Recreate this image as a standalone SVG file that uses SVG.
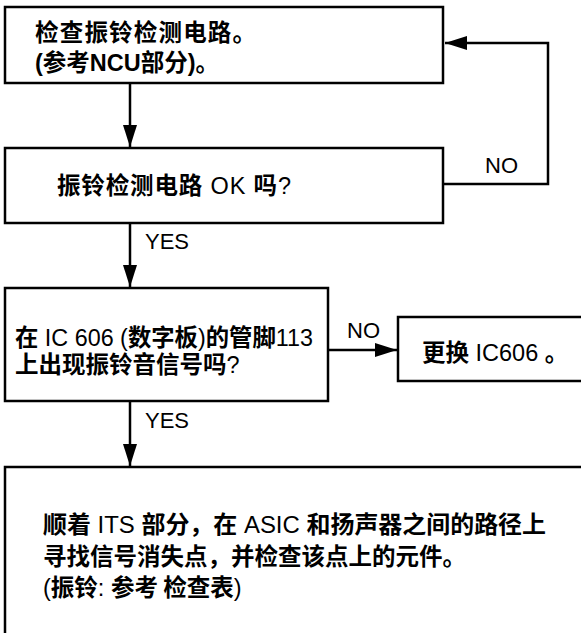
<svg xmlns="http://www.w3.org/2000/svg" width="581" height="633" viewBox="0 0 581 633">
<defs>
<marker id="ah" viewBox="0 0 22 14" refX="22" refY="7" markerWidth="22" markerHeight="14" orient="auto" markerUnits="userSpaceOnUse">
<path d="M0,0 L22,7 L0,14 z" fill="#000"/>
</marker>
<style>
.box{fill:#fff;stroke:#000;stroke-width:2.5}
.t{font-family:"Liberation Sans","Noto Sans CJK SC",sans-serif;font-size:23.5px;fill:#000}
.b{font-weight:bold}
.c{font-family:"Noto Sans CJK SC","Liberation Sans",sans-serif;font-weight:bold}
.lbl{font-family:"Liberation Sans",Arial,sans-serif;font-size:22px;fill:#000}
.wire{fill:none;stroke:#000;stroke-width:2.5}
</style>
</defs>
<rect width="581" height="633" fill="#fff"/>
<g id="connectors">
<line class="wire" x1="130" y1="83" x2="130" y2="147" marker-end="url(#ah)"/>
<line class="wire" x1="130" y1="223" x2="130" y2="287" marker-end="url(#ah)"/>
<line class="wire" x1="130" y1="401" x2="130" y2="466" marker-end="url(#ah)"/>
<polyline class="wire" points="443,184 548,184 548,43 445,43" marker-end="url(#ah)"/>
<line class="wire" x1="328" y1="350" x2="397" y2="350" marker-end="url(#ah)"/>
<text class="lbl" x="485" y="173">NO</text>
<text class="lbl" x="145" y="249">YES</text>
<text class="lbl" x="347" y="338">NO</text>
<text class="lbl" x="145" y="428">YES</text>
</g>
<g id="n1">
<rect class="box" x="5" y="7" width="438" height="76"/>
<text class="t b" x="35" y="41" textLength="221" lengthAdjust="spacing"><tspan class="c">检查振铃检测电路。</tspan></text>
<text class="t b" x="35" y="71">(<tspan class="c">参考</tspan>NCU<tspan class="c">部分</tspan>)<tspan class="c">。</tspan></text>
</g>
<g id="n2">
<rect class="box" x="5" y="148" width="438" height="75"/>
<text class="t" x="57" y="194" textLength="234" lengthAdjust="spacing"><tspan class="c">振铃检测电路</tspan> OK <tspan class="c">吗</tspan>?</text>
</g>
<g id="n3">
<rect class="box" x="5" y="288" width="323" height="113"/>
<text class="t" x="15" y="346" textLength="298" lengthAdjust="spacingAndGlyphs"><tspan class="c">在</tspan> IC 606 (<tspan class="c">数字板</tspan>)<tspan class="c">的管脚</tspan>113</text>
<text class="t" x="15" y="373"><tspan class="c">上出现振铃音信号吗</tspan>?</text>
</g>
<g id="n4">
<rect class="box" x="398" y="317" width="300" height="64"/>
<text class="t" x="422" y="361"><tspan class="c">更换</tspan> IC606 <tspan class="c">。</tspan></text>
</g>
<g id="n5">
<rect class="box" x="5" y="467" width="700" height="300"/>
<text class="t" x="43" y="533" textLength="503" lengthAdjust="spacingAndGlyphs"><tspan class="c">顺着</tspan> ITS <tspan class="c">部分，在</tspan> ASIC <tspan class="c">和扬声器之间的路径上</tspan></text>
<text class="t" x="43" y="565"><tspan class="c">寻找信号消失点，并检查该点上的元件。</tspan></text>
<text class="t" x="43" y="596">(<tspan class="c">振铃</tspan>: <tspan class="c">参考 检查表</tspan>)</text>
</g>
</svg>
